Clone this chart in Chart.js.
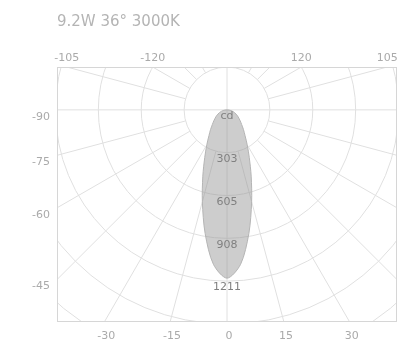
<!DOCTYPE html>
<html>
<head>
<meta charset="utf-8">
<script src="https://cdn.jsdelivr.net/npm/chart.js@4.4.0/dist/chart.umd.min.js"></script>
<style>
  html, body { margin: 0; padding: 0; background: #fff; }
</style>
</head>
<body>
<canvas id="polarChart" width="400" height="347"></canvas>
<script>
(function() {
    'use strict';

    const chartTitle = '9.2W 36° 3000K';
    const unitLabel = 'cd';

    const beamAngles = [-90, -85, -80, -75, -70, -65, -60, -55, -50, -45, -40, -35, -30, -25, -20, -15, -10, -5,
        0, 5, 10, 15, 20, 25, 30, 35, 40, 45, 50, 55, 60, 65, 70, 75, 80, 85, 90];
    const intensity = [0, 14, 28, 42, 56, 70, 86, 102, 122, 146, 180, 222, 285, 372, 499, 672, 888, 1097,
        1190, 1097, 888, 672, 499, 372, 285, 222, 180, 146, 122, 102, 86, 70, 56, 42, 28, 14, 0];

    const ringValues = [303, 605, 908, 1211];
    const ringLabels = ['303', '605', '908', '1211'];

    const leftTicks = [-90, -75, -60, -45];
    const topTicks = [-105, -120, 120, 105];
    const bottomTicks = [-30, -15, 0, 15, 30];
    const spokeStep = 15;

    const X_EXTENT = 1200;
    const Y_TOP = 303;
    const Y_BOTTOM = -1500;

    const FONT = 'DejaVu Sans';
    const GRID = '#e0e0e0';
    const TEXT = '#aaaaaa';

    function rad(a) { return a * Math.PI / 180; }

    function toXY(angle, r) {
        return { x: r * Math.sin(rad(angle)), y: -r * Math.cos(rad(angle)) };
    }

    // where a spoke meets each edge of the box
    function leftEdgeY(a) { const t = -X_EXTENT / Math.sin(rad(a)); return -Math.cos(rad(a)) * t; }
    function topEdgeX(a) { const t = Y_TOP / -Math.cos(rad(a)); return Math.sin(rad(a)) * t; }
    function bottomEdgeX(a) { const t = Y_BOTTOM / -Math.cos(rad(a)); return Math.sin(rad(a)) * t; }

    const lobePoints = beamAngles.map(function(a, i) { return toXY(a, intensity[i]); });

    const polarGrid = {
        id: 'polarGrid',
        beforeDatasetsDraw: function(chart) {
            const ctx = chart.ctx;
            const area = chart.chartArea;
            const xs = chart.scales.x, ys = chart.scales.y;
            const cx = xs.getPixelForValue(0), cy = ys.getPixelForValue(0);
            const kx = (xs.getPixelForValue(1000) - cx) / 1000;
            const ky = (cy - ys.getPixelForValue(1000)) / 1000;
            const step = ringValues[ringValues.length - 1] / ringValues.length;
            const far = Math.hypot(X_EXTENT, Math.abs(Y_BOTTOM)) + step;

            ctx.save();
            ctx.beginPath();
            ctx.rect(area.left, area.top, area.right - area.left, area.bottom - area.top);
            ctx.clip();
            ctx.strokeStyle = GRID;
            ctx.lineWidth = 1;

            for (let r = step; r < far; r += step) {
                ctx.beginPath();
                ctx.ellipse(cx, cy, r * kx, r * ky, 0, 0, Math.PI * 2);
                ctx.stroke();
            }

            for (let a = -180; a < 180; a += spokeStep) {
                const full = (a % 90 === 0);
                const r0 = full ? 0 : step;
                const p0 = toXY(a, r0), p1 = toXY(a, far);
                ctx.beginPath();
                ctx.moveTo(cx + p0.x * kx, cy - p0.y * ky);
                ctx.lineTo(cx + p1.x * kx, cy - p1.y * ky);
                ctx.stroke();
            }
            ctx.restore();

            ctx.save();
            ctx.strokeStyle = '#d6d6d6';
            ctx.strokeRect(area.left + 0.5, area.top + 0.5, area.right - area.left - 1, area.bottom - area.top - 1);
            ctx.restore();
        },
        afterDatasetsDraw: function(chart) {
            const ctx = chart.ctx;
            const xs = chart.scales.x, ys = chart.scales.y;
            const cx = xs.getPixelForValue(0);
            ctx.save();
            ctx.font = '11px "' + FONT + '"';
            ctx.textAlign = 'center';
            ctx.textBaseline = 'top';
            ctx.fillStyle = '#808080';
            ctx.fillText(unitLabel, cx, ys.getPixelForValue(0) + 1);
            ringValues.forEach(function(v, i) {
                ctx.fillText(ringLabels[i], cx, ys.getPixelForValue(-v) + 1);
            });
            ctx.restore();
        }
    };

    function edgeTicks(list, fn) {
        return function(scale) {
            scale.ticks = list.map(function(a) { return { value: fn(a) }; });
        };
    }

    const tickFont = { family: FONT, size: 11 };

    new Chart(document.getElementById('polarChart'), {
        type: 'scatter',
        data: {
            datasets: [{
                data: lobePoints,
                showLine: true,
                fill: 'shape',
                tension: 0.3,
                pointRadius: 0,
                borderWidth: 1,
                borderColor: '#b4b4b4',
                backgroundColor: 'rgba(145, 145, 145, 0.45)',
            }],
        },
        options: {
            responsive: false,
            animation: false,
            events: [],
            layout: { padding: { right: 3 } },
            plugins: {
                legend: { display: false },
                tooltip: { enabled: false },
            },
            scales: {
                x: {
                    type: 'linear',
                    position: 'bottom',
                    min: -X_EXTENT,
                    max: X_EXTENT,
                    grid: { display: false, drawTicks: false },
                    border: { display: false },
                    afterBuildTicks: edgeTicks(bottomTicks, bottomEdgeX),
                    afterFit: function(scale) { scale.height = 25; },
                    ticks: {
                        autoSkip: false,
                        maxRotation: 0,
                        padding: 8,
                        labelOffset: 2,
                        color: TEXT,
                        font: tickFont,
                        callback: function(v, i) { return String(bottomTicks[i]); },
                    },
                },
                xTop: {
                    type: 'linear',
                    position: 'top',
                    min: -X_EXTENT,
                    max: X_EXTENT,
                    grid: { display: false, drawTicks: false },
                    border: { display: false },
                    afterBuildTicks: edgeTicks(topTicks, topEdgeX),
                    afterFit: function(scale) { scale.height = 67; },
                    title: {
                        display: true,
                        text: chartTitle,
                        align: 'start',
                        color: '#b4b4b4',
                        font: { family: FONT, size: 15 },
                        padding: { top: 13, bottom: 0 },
                    },
                    ticks: {
                        autoSkip: false,
                        maxRotation: 0,
                        padding: 2,
                        color: TEXT,
                        font: tickFont,
                        callback: function(v, i) { return String(topTicks[i]); },
                    },
                },
                y: {
                    type: 'linear',
                    position: 'left',
                    min: Y_BOTTOM,
                    max: Y_TOP,
                    grid: { display: false, drawTicks: false },
                    border: { display: false },
                    afterBuildTicks: edgeTicks(leftTicks, leftEdgeY),
                    afterFit: function(scale) { scale.width = 57; },
                    ticks: {
                        autoSkip: false,
                        padding: 7,
                        labelOffset: 7,
                        color: TEXT,
                        font: tickFont,
                        callback: function(v, i) { return String(leftTicks[i]); },
                    },
                },
            },
        },
        plugins: [polarGrid],
    });
})();
</script>
</body>
</html>
